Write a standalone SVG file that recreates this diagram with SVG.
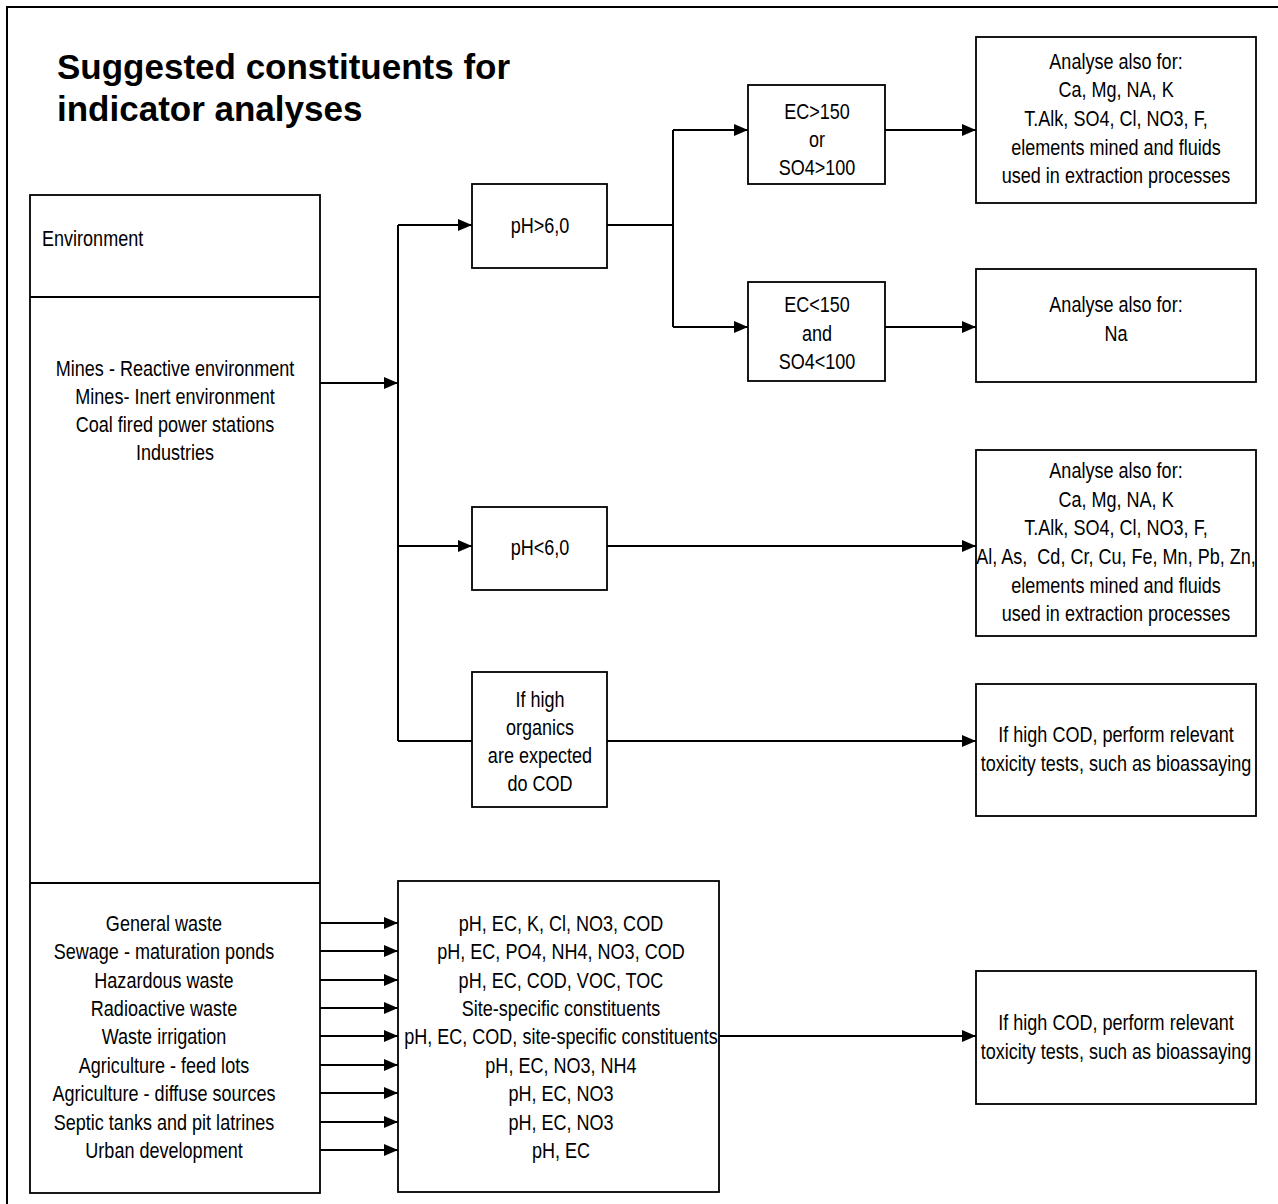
<svg xmlns="http://www.w3.org/2000/svg" width="1278" height="1204" viewBox="0 0 1278 1204">
<defs>
<marker id="ah" markerWidth="14" markerHeight="12" refX="14" refY="6" orient="auto" markerUnits="userSpaceOnUse">
<path d="M0,0 L14,6 L0,12 Z" fill="#000"/>
</marker>
<style>
.box{fill:#fff;stroke:#000;stroke-width:1.8}
.t{font-family:"Liberation Sans",Arial,sans-serif;font-size:22px;fill:#000;text-anchor:middle;transform-box:fill-box;transform-origin:center;transform:scaleX(0.82)}
.tl{text-anchor:start;transform-origin:left center}
.pre{white-space:pre}
.title{font-family:"Liberation Sans",Arial,sans-serif;font-size:35px;font-weight:bold;fill:#000}
.c{fill:none;stroke:#000;stroke-width:2}
.a{marker-end:url(#ah)}
</style>
</defs>
<rect width="1278" height="1204" fill="#fff"/>
<path d="M7,1204 L7,7 L1278,7" fill="none" stroke="#000" stroke-width="2"/>
<g id="title">
<text class="title" x="57" y="79">Suggested constituents for</text>
<text class="title" x="57" y="121">indicator analyses</text>
</g>
<g id="environment">
<rect class="box" x="30" y="195" width="290" height="998"/>
<line x1="30" y1="297" x2="320" y2="297" stroke="#000" stroke-width="1.8"/>
<line x1="30" y1="883" x2="320" y2="883" stroke="#000" stroke-width="1.8"/>
<text class="t tl" x="42" y="246">Environment</text>
</g>
<g id="mines">
<text class="t" x="175" y="376">Mines - Reactive environment</text>
<text class="t" x="175" y="404">Mines- Inert environment</text>
<text class="t" x="175" y="432">Coal fired power stations</text>
<text class="t" x="175" y="460">Industries</text>
</g>
<g id="waste">
<text class="t" x="164" y="931">General waste</text>
<text class="t" x="164" y="959">Sewage - maturation ponds</text>
<text class="t" x="164" y="988">Hazardous waste</text>
<text class="t" x="164" y="1016">Radioactive waste</text>
<text class="t" x="164" y="1044">Waste irrigation</text>
<text class="t" x="164" y="1073">Agriculture - feed lots</text>
<text class="t" x="164" y="1101">Agriculture - diffuse sources</text>
<text class="t" x="164" y="1130">Septic tanks and pit latrines</text>
<text class="t" x="164" y="1158">Urban development</text>
</g>
<g id="ph-high">
<rect class="box" x="472" y="184" width="135" height="84"/>
<text class="t" x="540" y="233">pH&gt;6,0</text>
</g>
<g id="ph-low">
<rect class="box" x="472" y="507" width="135" height="83"/>
<text class="t" x="540" y="555">pH&lt;6,0</text>
</g>
<g id="organics">
<rect class="box" x="472" y="672" width="135" height="135"/>
<text class="t" x="540" y="707">If high</text>
<text class="t" x="540" y="735">organics</text>
<text class="t" x="540" y="763">are expected</text>
<text class="t" x="540" y="791">do COD</text>
</g>
<g id="ec-high">
<rect class="box" x="748" y="85" width="137" height="99"/>
<text class="t" x="817" y="119">EC&gt;150</text>
<text class="t" x="817" y="147">or</text>
<text class="t" x="817" y="175">SO4&gt;100</text>
</g>
<g id="ec-low">
<rect class="box" x="748" y="282" width="137" height="99"/>
<text class="t" x="817" y="312">EC&lt;150</text>
<text class="t" x="817" y="341">and</text>
<text class="t" x="817" y="369">SO4&lt;100</text>
</g>
<g id="analyse-1">
<rect class="box" x="976" y="37" width="280" height="166"/>
<text class="t" x="1116" y="69">Analyse also for:</text>
<text class="t" x="1116" y="97">Ca, Mg, NA, K</text>
<text class="t" x="1116" y="126">T.Alk, SO4, Cl, NO3, F,</text>
<text class="t" x="1116" y="155">elements mined and fluids</text>
<text class="t" x="1116" y="183">used in extraction processes</text>
</g>
<g id="analyse-2">
<rect class="box" x="976" y="269" width="280" height="113"/>
<text class="t" x="1116" y="312">Analyse also for:</text>
<text class="t" x="1116" y="341">Na</text>
</g>
<g id="analyse-3">
<rect class="box" x="976" y="450" width="280" height="186"/>
<text class="t" x="1116" y="478">Analyse also for:</text>
<text class="t" x="1116" y="507">Ca, Mg, NA, K</text>
<text class="t" x="1116" y="535">T.Alk, SO4, Cl, NO3, F,</text>
<text class="t pre" x="1116" y="564">Al, As,  Cd, Cr, Cu, Fe, Mn, Pb, Zn,</text>
<text class="t" x="1116" y="593">elements mined and fluids</text>
<text class="t" x="1116" y="621">used in extraction processes</text>
</g>
<g id="toxicity-1">
<rect class="box" x="976" y="684" width="280" height="132"/>
<text class="t" x="1116" y="742">If high COD, perform relevant</text>
<text class="t" x="1116" y="771">toxicity tests, such as bioassaying</text>
</g>
<g id="constituents">
<rect class="box" x="398" y="881" width="321" height="311"/>
<text class="t" x="561" y="931">pH, EC, K, Cl, NO3, COD</text>
<text class="t" x="561" y="959">pH, EC, PO4, NH4, NO3, COD</text>
<text class="t" x="561" y="988">pH, EC, COD, VOC, TOC</text>
<text class="t" x="561" y="1016">Site-specific constituents</text>
<text class="t" x="561" y="1044">pH, EC, COD, site-specific constituents</text>
<text class="t" x="561" y="1073">pH, EC, NO3, NH4</text>
<text class="t" x="561" y="1101">pH, EC, NO3</text>
<text class="t" x="561" y="1130">pH, EC, NO3</text>
<text class="t" x="561" y="1158">pH, EC</text>
</g>
<g id="toxicity-2">
<rect class="box" x="976" y="971" width="280" height="133"/>
<text class="t" x="1116" y="1030">If high COD, perform relevant</text>
<text class="t" x="1116" y="1059">toxicity tests, such as bioassaying</text>
</g>
<g id="connectors">
<line class="c a" x1="320" y1="383" x2="398" y2="383"/>
<line class="c" x1="398" y1="225" x2="398" y2="741"/>
<line class="c a" x1="398" y1="225" x2="472" y2="225"/>
<line class="c a" x1="398" y1="546" x2="472" y2="546"/>
<line class="c" x1="398" y1="741" x2="472" y2="741"/>
<path class="c" d="M607,225 L673,225"/>
<line class="c" x1="673" y1="130" x2="673" y2="327"/>
<line class="c a" x1="673" y1="130" x2="748" y2="130"/>
<line class="c a" x1="673" y1="327" x2="748" y2="327"/>
<line class="c a" x1="885" y1="130" x2="976" y2="130"/>
<line class="c a" x1="885" y1="327" x2="976" y2="327"/>
<line class="c a" x1="607" y1="546" x2="976" y2="546"/>
<line class="c a" x1="607" y1="741" x2="976" y2="741"/>
<line class="c a" x1="320" y1="923" x2="398" y2="923"/>
<line class="c a" x1="320" y1="951" x2="398" y2="951"/>
<line class="c a" x1="320" y1="980" x2="398" y2="980"/>
<line class="c a" x1="320" y1="1008" x2="398" y2="1008"/>
<line class="c a" x1="320" y1="1036" x2="398" y2="1036"/>
<line class="c a" x1="320" y1="1065" x2="398" y2="1065"/>
<line class="c a" x1="320" y1="1093" x2="398" y2="1093"/>
<line class="c a" x1="320" y1="1122" x2="398" y2="1122"/>
<line class="c a" x1="320" y1="1150" x2="398" y2="1150"/>
<line class="c a" x1="719" y1="1036" x2="976" y2="1036"/>
</g>
</svg>
